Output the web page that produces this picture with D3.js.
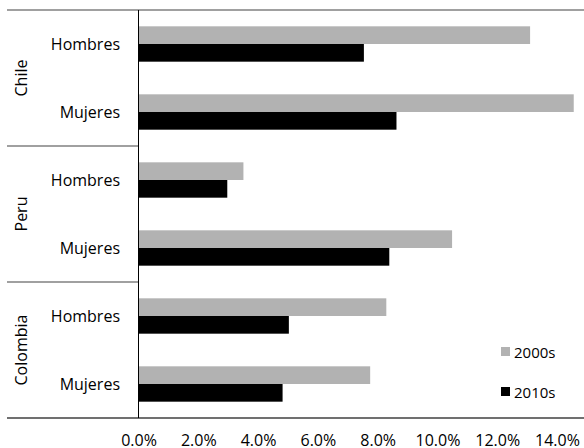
<!DOCTYPE html>
<html>
<head>
<meta charset="utf-8">
<script src="https://cdn.jsdelivr.net/npm/d3@7"></script>
<style>
  html, body { margin: 0; padding: 0; background: #fff; }
  svg { display: block; font-family: "Open Sans", "Noto Sans", sans-serif; }
</style>
</head>
<body>
<svg id="chart" width="584" height="448"></svg>
<script>
// ---- Data ----
const countries = ["Chile", "Peru", "Colombia"];
const sexes = ["Hombres", "Mujeres"];
const seriesNames = ["2000s", "2010s"];
const values2000s = [13.1, 14.56, 3.51, 10.49, 8.29, 7.75];
const values2010s = [7.54, 8.63, 2.97, 8.39, 5.03, 4.82];
const tickValues = [0, 2, 4, 6, 8, 10, 12, 14];

(function () {
// ---- Build rows ----
const rows = [];
countries.forEach((c, ci) => sexes.forEach((s, si) => {
  const i = ci * sexes.length + si;
  rows.push({ key: c + "|" + s, country: c, sex: s, "2000s": values2000s[i], "2010s": values2010s[i] });
}));

const colors = { "2000s": "#b2b2b2", "2010s": "#000000" };

const svg = d3.select("#chart");
const plotTop = 10, plotBottom = 418, axisX = 138.5;

const x = d3.scaleLinear().domain([0, 14]).range([axisX, 557]);
const y = d3.scaleBand().domain(rows.map(d => d.key)).range([plotTop, plotBottom])
  .paddingInner(0.48).paddingOuter(0.24);
const ySub = d3.scaleBand().domain(seriesNames).range([0, y.bandwidth()]);

// group band scale
const yGroup = d3.scaleBand().domain(countries).range([plotTop, plotBottom]);

// bars
const g = svg.append("g");
rows.forEach(r => {
  seriesNames.forEach(sn => {
    g.append("rect")
      .attr("x", x(0))
      .attr("y", y(r.key) + ySub(sn))
      .attr("width", x(r[sn]) - x(0))
      .attr("height", ySub.bandwidth())
      .attr("fill", colors[sn]);
  });
});

// horizontal frame lines
svg.append("line").attr("x1", 7).attr("x2", 584).attr("y1", plotTop).attr("y2", plotTop)
  .attr("stroke", "#808080").attr("stroke-width", 1.5);
svg.append("line").attr("x1", 7).attr("x2", 584).attr("y1", plotBottom).attr("y2", plotBottom)
  .attr("stroke", "#404040").attr("stroke-width", 1.5);
// group separators
countries.slice(1).forEach(c => {
  svg.append("line").attr("x1", 7).attr("x2", axisX).attr("y1", yGroup(c)).attr("y2", yGroup(c))
    .attr("stroke", "#808080").attr("stroke-width", 1.5);
});
// vertical axis line
svg.append("line").attr("x1", axisX).attr("x2", axisX).attr("y1", plotTop).attr("y2", plotBottom)
  .attr("stroke", "#000").attr("stroke-width", 1);

// category labels
rows.forEach(r => {
  svg.append("text")
    .attr("x", 120)
    .attr("y", y(r.key) + y.bandwidth() / 2)
    .attr("text-anchor", "end")
    .attr("dominant-baseline", "central")
    .attr("font-size", 16)
    .attr("fill", "#000")
    .text(r.sex);
});

// group labels
countries.forEach(c => {
  const cy = yGroup(c) + yGroup.bandwidth() / 2;
  svg.append("text")
    .attr("transform", `translate(21,${cy}) rotate(-90)`)
    .attr("text-anchor", "middle")
    .attr("dominant-baseline", "central")
    .attr("font-size", 16)
    .attr("fill", "#000")
    .text(c);
});

// x axis
const xAxis = d3.axisBottom(x).tickValues(tickValues).tickSize(0)
  .tickFormat(d => d.toFixed(1) + "%");
const ax = svg.append("g").attr("transform", `translate(0,${plotBottom})`).call(xAxis);
ax.select(".domain").remove();
ax.selectAll("text").attr("font-size", 16).attr("fill", "#000")
  .attr("font-family", "\"Open Sans\", \"Noto Sans\", sans-serif")
  .attr("dy", null).attr("y", 21.5).attr("dominant-baseline", "central");

// legend
const legendY = { "2000s": 351.5, "2010s": 391.5 };
seriesNames.forEach(sn => {
  svg.append("rect").attr("x", 501).attr("y", legendY[sn] - 4.5)
    .attr("width", 9).attr("height", 9).attr("fill", colors[sn]);
  svg.append("text").attr("x", 514).attr("y", legendY[sn])
    .attr("dominant-baseline", "central").attr("font-size", 15).attr("fill", "#000")
    .text(sn);
});
})();
</script>
</body>
</html>
